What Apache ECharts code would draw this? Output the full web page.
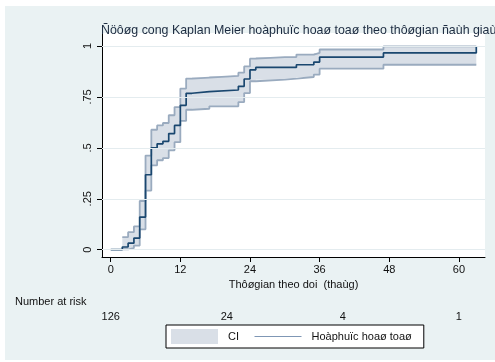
<!DOCTYPE html>
<html>
<head>
<meta charset="utf-8">
<script src="https://cdn.jsdelivr.net/npm/echarts@6/dist/echarts.min.js"></script>
<style>
html,body{margin:0;padding:0;background:#fff;}
#c{width:495px;height:362px;}
</style>
</head>
<body>
<div id="c"></div>
<script>
// ---- data ----
const titleText = 'Ñöôøg cong Kaplan Meier hoàphuïc hoaø toaø theo thôøgian ñaùh giaù';
const xAxisTitle = 'Thôøgian theo doi  (thaùg)';
const curveName = 'Hoàphuïc hoaø toaø';
const ciName = 'CI';
const xTicks = [0, 12, 24, 36, 48, 60];
const yTicks = [0, 0.25, 0.5, 0.75, 1];
const yTickLabels = ['0', '.25', '.5', '.75', '1'];

const kmTimes = [0, 2, 3, 4, 5, 6, 7, 8, 9, 10, 11, 12, 13, 14, 17, 22, 23, 24, 25, 32, 35, 36, 47, 63];
const kmSurv  = [0, 0.013, 0.032, 0.057, 0.16, 0.368, 0.50, 0.52, 0.532, 0.57, 0.61, 0.709, 0.768, 0.776, 0.784, 0.802, 0.838, 0.883, 0.895, 0.908, 0.921, 0.946, 0.966, 1.0];

const ciTimes = [2, 3, 4, 5, 6, 7, 8, 9, 10, 11, 12, 13, 14, 17, 22, 23, 24, 25, 30, 32, 35, 36, 47, 63];
const ciLower = [0.002, 0.008, 0.02, 0.10, 0.29, 0.414, 0.439, 0.45, 0.488, 0.528, 0.632, 0.687, 0.692, 0.704, 0.725, 0.769, 0.827, 0.835, 0.84, 0.848, 0.86, 0.889, 0.908, 0.908];
const ciUpper = [0.062, 0.086, 0.114, 0.239, 0.462, 0.589, 0.61, 0.622, 0.66, 0.70, 0.791, 0.84, 0.845, 0.853, 0.869, 0.90, 0.938, 0.946, 0.946, 0.958, 0.966, 0.983, 0.998, 0.998];

const riskLabel = 'Number at risk';
const riskTimes = [0, 20, 40, 60];
const riskCounts = [126, 24, 4, 1];

// ---- build ----
const FONT = 'Liberation Sans, Arial, sans-serif';
const kmData = kmTimes.map((t, i) => [t, kmSurv[i]]);
const lowData = ciTimes.map((t, i) => [t, ciLower[i]]);
const upData = ciTimes.map((t, i) => [t, ciUpper[i]]);

const chart = echarts.init(document.getElementById('c'), null, {renderer: 'canvas'});
const bandFill = '#d9dfe7';
const bandLine = '#9aabbf';
const navy = '#1a476f';

function stepPoints(api, times, vals) {
  const pts = [];
  for (let i = 0; i < times.length; i++) {
    if (i > 0) pts.push(api.coord([times[i], vals[i - 1]]));
    pts.push(api.coord([times[i], vals[i]]));
  }
  return pts;
}

function renderBand(params, api) {
  const up = stepPoints(api, ciTimes, ciUpper);
  const lo = stepPoints(api, ciTimes, ciLower);
  const poly = up.concat(lo.slice().reverse());
  return {
    type: 'polygon',
    shape: {points: poly},
    style: {fill: bandFill, stroke: null},
    silent: true
  };
}

chart.setOption({
  animation: false,
  backgroundColor: '#ffffff',
  title: {
    text: titleText,
    left: 96, top: 20,
    textStyle: {fontFamily: FONT, fontSize: 12.4, fontWeight: 'normal', color: '#1c2b40'}
  },
  grid: {
    left: 102, right: 10, top: 33, bottom: 105,
    show: true, backgroundColor: '#ffffff', borderWidth: 0
  },
  xAxis: {
    type: 'value', min: -1.5, max: 64.5,
    name: xAxisTitle, nameLocation: 'middle', nameGap: 20,
    nameTextStyle: {fontFamily: FONT, fontSize: 11, color: '#111'},
    axisLine: {show: true, onZero: false, lineStyle: {color: '#000', width: 1}},
    axisTick: {show: true, length: 5, customValues: xTicks, lineStyle: {color: '#000'}},
    axisLabel: {customValues: xTicks, margin: 7, fontFamily: FONT, fontSize: 11, color: '#111'},
    splitLine: {show: false}
  },
  yAxis: {
    type: 'value', min: -0.036, max: 1.064,
    axisLine: {show: true, onZero: false, lineStyle: {color: '#000', width: 1}},
    axisTick: {show: true, length: 5, customValues: yTicks, lineStyle: {color: '#000'}},
    axisLabel: {
      customValues: yTicks, rotate: 90, margin: 9,
      fontFamily: FONT, fontSize: 11, color: '#111',
      formatter: v => { const i = yTicks.findIndex(t => Math.abs(t - v) < 1e-6); return i >= 0 ? yTickLabels[i] : ''; }
    },
    splitLine: {show: false}
  },
  legend: {
    left: 166, top: 325,
    orient: 'horizontal',
    backgroundColor: '#ffffff', borderColor: '#000', borderWidth: 1,
    padding: [4, 12, 4, 5],
    itemWidth: 47, itemHeight: 15, itemGap: 15,
    textStyle: {fontFamily: FONT, fontSize: 11, color: '#111', padding: [0, 0, 0, 5]},
    selectedMode: false,
    data: [
      {name: ciName, icon: 'rect', itemStyle: {color: bandFill, borderWidth: 0}},
      {name: curveName, lineStyle: {color: '#7f97b5', width: 1}, itemStyle: {opacity: 0}}
    ]
  },
  series: [
    {
      name: 'grid', type: 'line', data: [], silent: true, z: 1,
      markLine: {
        silent: true, symbol: 'none', animation: false, label: {show: false},
        lineStyle: {color: '#e4ecef', width: 1, type: 'solid'},
        data: yTicks.map(v => ({yAxis: v}))
      }
    },
    {
      name: ciName, type: 'custom', renderItem: renderBand,
      data: [[ciTimes[0], ciLower[0]]], itemStyle: {color: bandFill},
      z: 2, silent: true, clip: true
    },
    {
      name: 'ciLow', type: 'line', step: 'end', data: lowData, symbol: 'none',
      lineStyle: {color: bandLine, width: 1.8}, z: 3, silent: true
    },
    {
      name: 'ciUp', type: 'line', step: 'end', data: upData, symbol: 'none',
      lineStyle: {color: bandLine, width: 1.8}, z: 3, silent: true
    },
    {
      name: curveName, type: 'line', step: 'end', data: kmData, symbol: 'none',
      itemStyle: {color: navy},
      lineStyle: {color: navy, width: 1.7}, z: 4, silent: true
    }
  ]
});

// risk table and background panel
const gr = [
  {type: 'rect', shape: {x: 5, y: 6, width: 490, height: 354}, style: {fill: '#eaf2f3'}, z: -10, silent: true},
  {type: 'text', x: 15, y: 302, style: {text: riskLabel, font: '11px ' + FONT, fill: '#111', verticalAlign: 'middle'}, z: 10}
];
riskTimes.forEach((t, i) => {
  const px = chart.convertToPixel({xAxisIndex: 0}, t);
  gr.push({type: 'text', x: px, y: 317, style: {text: String(riskCounts[i]), font: '11px ' + FONT, fill: '#111', align: 'center', verticalAlign: 'middle'}, z: 10});
});
chart.setOption({graphic: gr});
</script>
</body>
</html>
